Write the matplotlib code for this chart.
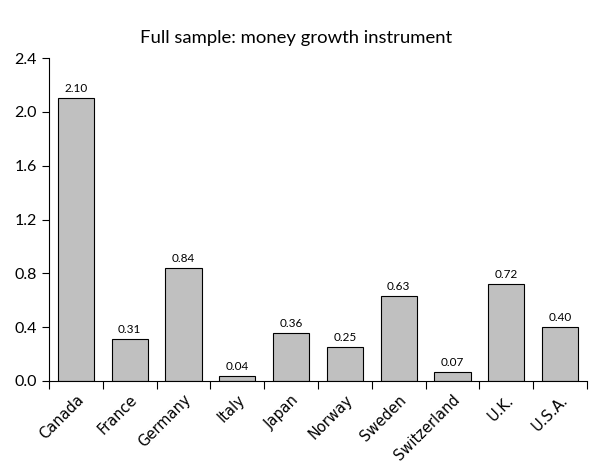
import matplotlib
matplotlib.use("Agg")
import matplotlib.pyplot as plt
import numpy as np

countries = ["Canada", "France", "Germany", "Italy", "Japan", "Norway",
             "Sweden", "Switzerland", "U.K.", "U.S.A."]
values = [2.10, 0.31, 0.84, 0.04, 0.36, 0.25, 0.63, 0.07, 0.72, 0.40]
yticks = [0.0, 0.4, 0.8, 1.2, 1.6, 2.0, 2.4]

plt.rcParams['font.family'] = ['Lato', 'DejaVu Sans']

fig = plt.figure(figsize=(5.92, 4.66), dpi=100)
ax = fig.add_axes([49 / 592, 1 - 381 / 466, 538 / 592, 323 / 466])

x = np.arange(len(countries))
ax.bar(x, values, width=0.67, color="#c0c0c0", edgecolor="black", linewidth=0.8)
for xi, v in zip(x, values):
    ax.text(xi, v + 0.03, "%.2f" % v, ha="center", va="bottom", fontsize=8.5)

ax.set_xlim(-0.5, len(countries) - 0.5)
ax.set_ylim(0, 2.4)
ax.set_yticks(yticks)
ax.set_yticklabels(["%.1f" % t for t in yticks], fontsize=11.5)

ax.set_xticks(np.arange(len(countries) + 1) - 0.5)
ax.set_xticklabels([])
ax.set_xticks(x, minor=True)
ax.set_xticklabels(countries, minor=True, rotation=45, ha="right",
                   rotation_mode="anchor", fontsize=10.5, family="DejaVu Sans")
ax.tick_params(axis="x", which="minor", length=0, pad=8)
ax.tick_params(axis="x", which="major", direction="out", length=6)
ax.tick_params(axis="y", direction="out", length=5)

ax.spines["top"].set_visible(False)
ax.spines["right"].set_visible(False)

fig.text(0.5, 1 - 38 / 466, "Full sample: money growth instrument",
         ha="center", va="center", fontsize=13.3)

fig.savefig("out.png", dpi=100)
